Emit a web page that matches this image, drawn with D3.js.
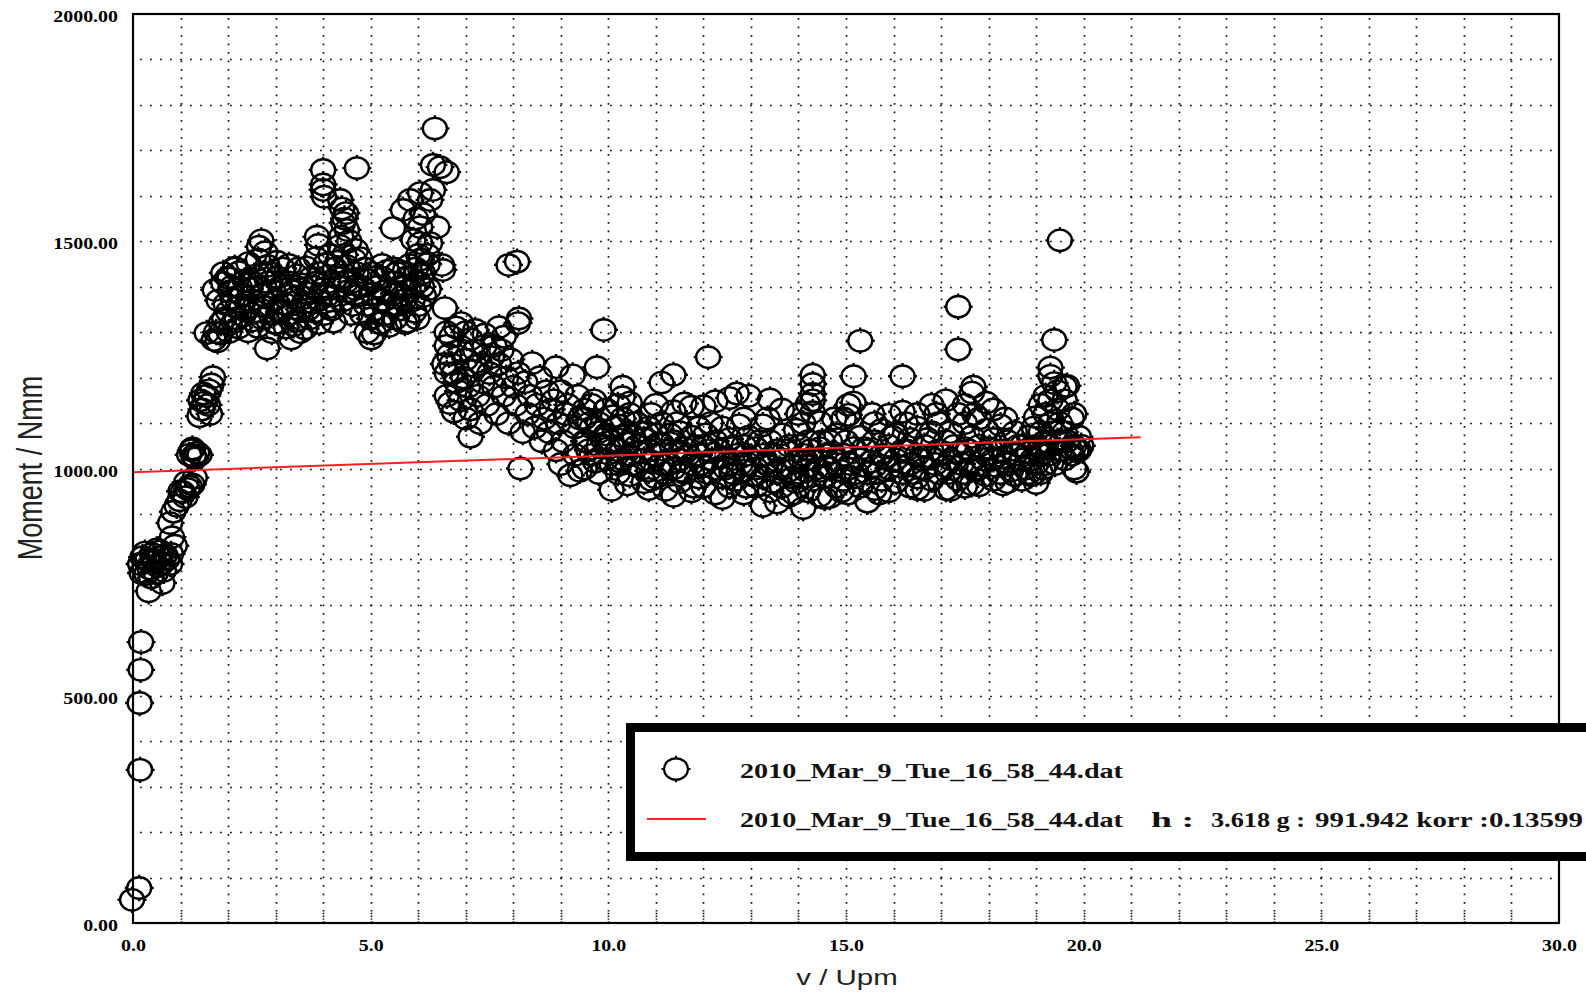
<!DOCTYPE html>
<html>
<head>
<meta charset="utf-8">
<script src="https://cdn.jsdelivr.net/npm/d3@7"></script>
<style>
  html, body { margin: 0; padding: 0; background: #fff; }
  svg { display: block; }
</style>
</head>
<body>
<svg id="chart" width="1586" height="992"></svg>
<script>
// ---- axis ticks and labels ----
const xTicks = [0, 5, 10, 15, 20, 25, 30];
const yTicks = [0, 500, 1000, 1500, 2000];
const xTitle = "v / Upm";
const yTitle = "Moment / Nmm";

// ---- regression of the measured series ----
const fileName = "2010_Mar_9_Tue_16_58_44.dat";
const fitSlope = 3.618;        // h
const fitIntercept = 991.942;  // g
const fitKorr = "0.13599";
const fitRange = [0, 21.2];

// ---- measured points [v (Upm), Moment (Nmm)] ----
const startPts = [[-0.02,51],[0.13,77],[0.15,337],[0.14,484],[0.16,557],[0.17,618]];

const lowRampPts = [
  [0.15,790],[0.2,805],[0.25,815],[0.3,798],[0.35,780],[0.4,812],[0.45,795],[0.5,822],
  [0.55,805],[0.6,790],[0.65,775],[0.28,768],[0.38,760],[0.33,730],[0.62,748],[0.72,800],
  [0.8,812],[0.18,770],[0.48,770],[0.58,818],[0.42,800],[0.52,785],[0.68,810],[0.78,790],
  [0.82,849],[0.88,830],[0.78,880],[0.85,905],[0.92,918],[0.98,930],[1.05,948],[1.1,937],
  [1.15,955],[1.2,960],[1.0,950],[1.12,970],[1.25,965],[1.3,980],[1.18,1030],[1.23,1040],
  [1.28,1028],[1.35,1035],[1.3,1022],[1.25,1044],[1.4,1030]
];

const midRampPts = [
  [1.4,1115],[1.45,1130],[1.5,1145],[1.55,1160],[1.6,1172],[1.48,1165],[1.58,1140],
  [1.65,1185],[1.68,1201],[1.62,1120],[1.42,1150],[1.55,1298],[1.7,1283],[1.75,1300],
  [1.8,1370],[1.72,1393],[1.9,1430],[1.84,1297],[1.78,1280],[1.85,1320],[1.99,1420],[2.14,1442]
];

const plateauPts = [
  [1.92,1330],[1.95,1362],[1.9,1408],
  [2.02,1300],[2.0,1345],[2.05,1390],[2.03,1418],
  [2.12,1322],[2.1,1372],[2.15,1440],
  [2.22,1310],[2.2,1356],[2.25,1398],[2.23,1432],
  [2.32,1336],[2.3,1380],[2.35,1414],
  [2.42,1302],[2.4,1350],[2.45,1396],[2.43,1452],
  [2.52,1326],[2.5,1370],[2.55,1424],
  [2.62,1312],[2.6,1346],[2.65,1400],[2.63,1460],
  [2.72,1330],[2.7,1382],[2.75,1430],
  [2.82,1264],[2.8,1355],[2.85,1410],[2.83,1446],
  [2.92,1300],[2.9,1340],[2.95,1390],
  [3.02,1320],[3.0,1372],[3.05,1420],[3.03,1455],
  [3.12,1345],[3.1,1400],[3.15,1440],
  [3.22,1310],[3.2,1362],[3.25,1410],
  [3.33,1286],[3.3,1340],[3.35,1390],[3.28,1448],
  [3.42,1325],[3.4,1375],[3.45,1425],
  [3.52,1300],[3.5,1350],[3.55,1405],
  [3.62,1308],[3.6,1365],[3.65,1442],
  [3.72,1330],[3.7,1385],[3.75,1420],
  [3.82,1345],[3.8,1400],[3.85,1463],
  [3.92,1320],[3.9,1370],[3.95,1430],
  [4.02,1340],[4.0,1395],[4.05,1450],
  [4.12,1355],[4.1,1410],[4.15,1470],
  [4.22,1323],[4.2,1380],[4.25,1440],
  [4.32,1400],[4.3,1455],[4.35,1490],
  [4.42,1370],[4.4,1420],[4.45,1470],
  [4.52,1390],[4.5,1445],[4.55,1500],
  [4.62,1360],[4.6,1410],[4.65,1460],
  [4.72,1380],[4.7,1430],[4.69,1481],
  [4.82,1340],[4.8,1400],[4.77,1463],
  [4.92,1300],[4.9,1360],[4.95,1415],
  [5.01,1286],[5.0,1330],[5.05,1385],[5.03,1430],
  [5.07,1297],[5.1,1350],[5.15,1400],
  [5.22,1320],[5.2,1370],[5.25,1420],[5.24,1448],
  [5.32,1340],[5.3,1390],[5.35,1435],
  [5.39,1314],[5.4,1360],[5.45,1410],
  [5.52,1330],[5.5,1385],[5.55,1430],
  [5.6,1435],[5.62,1350],[5.65,1400],
  [5.72,1320],[5.7,1370],[5.75,1420],
  [5.78,1323],[5.8,1390],[5.82,1448],
  [5.92,1345],[5.9,1400],[5.95,1440],
  [6.02,1360],[6.0,1410],[6.05,1460],
  [6.12,1380],[6.1,1430],
  [6.22,1395],[6.2,1450]
];

const plateauCorePts = [
  [2.08,1400],[2.28,1360],[2.48,1410],[2.68,1360],[2.88,1430],[3.08,1345],[3.28,1380],
  [3.48,1440],[3.68,1350],[3.88,1410],[4.08,1380],[4.28,1420],[4.48,1410],[4.68,1395],
  [4.88,1440],[5.08,1420],[5.28,1370],[5.48,1440],[5.68,1380],[5.88,1370],[6.08,1400],
  [2.18,1330],[2.58,1345],[2.98,1320],[3.38,1315],[3.78,1365],[4.18,1350],[4.58,1340],
  [5.18,1320],[5.58,1360],[5.98,1330]
];

const spikePts = [
  [2.7,1502],[2.65,1488],[2.78,1476],[3.87,1510],[3.9,1492],
  [4.0,1657],[4.0,1625],[4.0,1613],[4.02,1598],
  [4.36,1591],[4.4,1572],[4.45,1550],[4.5,1525],[4.42,1540],[4.48,1562],[4.38,1510],
  [4.71,1661],[5.47,1529],[5.68,1569],[5.83,1591],[6.04,1606],[6.25,1591],[6.31,1613],
  [6.04,1531],[6.4,1531],[5.9,1503],[6.25,1496],[6.04,1496],[6.31,1668],[6.46,1663],
  [6.6,1652],[6.35,1748],[6.1,1560],[5.95,1550],[6.2,1470],[6.0,1470],
  [6.5,1448],[6.52,1437],[6.56,1353]
];

const dropPts = [
  [6.6,1300],[6.7,1290],[6.8,1310],[6.9,1320],[7.0,1300],[7.1,1285],[7.2,1305],[7.4,1295],
  [7.7,1311],[8.1,1320],[8.12,1330],[6.6,1270],[6.65,1250],[6.7,1230],[6.75,1210],[6.8,1190],
  [6.6,1160],[6.67,1144],[6.75,1125],[6.85,1170],[6.9,1150],[6.95,1200],[7.0,1240],[7.05,1180],
  [7.1,1070],[7.1,1130],[7.15,1215],[7.2,1260],[7.25,1160],[7.3,1230],[7.35,1190],[7.4,1270],
  [7.45,1140],[7.5,1210],[7.55,1245],[7.6,1180],[7.65,1120],[7.7,1230],[7.75,1260],[7.8,1160],
  [7.85,1200],[7.9,1100],[7.95,1240],[8.0,1180],[8.05,1140],[8.1,1210],[8.15,1000],[8.2,1080],
  [8.25,1190],[8.3,1120],[8.35,1160],[8.4,1232],[8.45,1090],[8.5,1140],[8.56,1201],[8.6,1060],
  [8.65,1110],[8.7,1170],[8.75,1080],[8.8,1130],[8.85,1150],[8.9,1223],[8.95,1100],[9.0,1170],
  [9.05,1060],[9.1,1120],[9.15,1140],[9.25,1205],[9.3,1090],[9.35,1160],[9.4,1110],[9.5,1130],
  [9.55,1060],[9.6,1100],[9.7,1150],[9.76,1223],[9.8,1080],[9.9,1305],[9.95,1130],
  [6.55,1230],[6.6,1210],[7.0,1110],[7.3,1100],[7.6,1270],[7.8,1290],[7.2,1225],[6.9,1260],
  [7.9,1448],[8.08,1455],[9.0,1010],[9.2,985],[9.4,995],[8.9,1040],[9.3,1030]
];

const bandPts = [
  [9.5,1000],[9.5,1060],[9.5,1110],[9.65,1030],[9.65,1090],[9.65,1140],
  [9.8,990],[9.8,1050],[9.8,1100],[9.95,1020],[9.95,1075],[9.95,1130],
  [10.07,953],[10.07,1010],[10.07,1060],[10.2,990],[10.2,1040],[10.2,1095],[10.2,1140],
  [10.3,1020],[10.3,1070],[10.3,1110],[10.3,1157],[10.3,1180],
  [10.45,985],[10.45,1030],[10.45,1080],[10.45,1120],[10.45,1145],
  [10.6,1005],[10.6,1050],[10.6,1100],[10.75,970],[10.75,1020],[10.75,1065],
  [10.85,955],[10.85,995],[10.85,1040],[10.85,1090],
  [11.0,980],[11.0,1030],[11.0,1075],[11.0,1140],
  [11.12,1010],[11.12,1055],[11.12,1100],[11.12,1189],
  [11.2,953],[11.2,990],[11.2,1040],
  [11.37,940],[11.37,1000],[11.37,1060],[11.37,1126],[11.37,1206],
  [11.5,970],[11.5,1020],[11.5,1080],[11.6,990],[11.6,1045],[11.6,1143],
  [11.75,950],[11.75,1010],[11.75,1070],[11.75,1136],
  [11.9,980],[11.9,1030],[11.9,1090],[12.0,960],[12.0,1005],[12.0,1050],[12.0,1137],
  [12.1,990],[12.1,1040],[12.1,1245],
  [12.25,945],[12.25,1000],[12.25,1060],[12.25,1148],
  [12.4,935],[12.4,980],[12.4,1025],[12.4,1090],
  [12.55,960],[12.55,1010],[12.55,1065],[12.55,1155],
  [12.7,975],[12.7,1030],[12.7,1165],[12.85,945],[12.85,995],[12.85,1050],[12.85,1110],
  [12.95,1010],[12.95,1070],[12.95,1160],[13.1,960],[13.1,1000],[13.1,1045],
  [13.25,918],[13.25,980],[13.25,1030],[13.25,1095],
  [13.4,950],[13.4,1005],[13.4,1060],[13.4,1152],
  [13.55,925],[13.55,990],[13.55,1040],
  [13.65,960],[13.65,1020],[13.65,1075],[13.65,1130],
  [13.8,940],[13.8,995],[13.8,1050],[13.95,970],[13.95,1015],[13.95,1085],
  [14.1,913],[14.1,980],[14.1,1030],[14.1,1100],
  [14.2,950],[14.2,1005],[14.2,1060],[14.2,1142],
  [14.3,975],[14.3,1020],[14.3,1124],[14.3,1150],[14.3,1164],[14.3,1186],[14.3,1206],
  [14.45,940],[14.45,995],[14.45,1045],[14.45,1102],
  [14.55,935],[14.55,980],[14.55,1030],[14.66,937],[14.66,1000],[14.66,1060],
  [14.8,960],[14.8,1010],[14.8,1075],[14.95,975],[14.95,1030],[14.95,1110],
  [15.05,945],[15.05,1000],[15.05,1118],[15.05,1140],
  [15.16,980],[15.16,1045],[15.16,1145],[15.16,1203],
  [15.3,960],[15.3,1020],[15.3,1070],[15.3,1281],
  [15.45,927],[15.45,990],[15.45,1040],
  [15.6,955],[15.6,1005],[15.6,1060],[15.6,1100],
  [15.75,975],[15.75,1030],[15.75,1085],
  [15.9,950],[15.9,1000],[15.9,1050],[15.9,1118],
  [16.05,970],[16.05,1020],[16.05,1075],
  [16.19,990],[16.19,1040],[16.19,1125],[16.19,1203],
  [16.35,960],[16.35,1010],[16.35,1065],
  [16.5,980],[16.5,1030],[16.5,1090],[16.5,1120],
  [16.65,953],[16.65,1000],[16.65,1050],
  [16.8,975],[16.8,1025],[16.8,1080],[16.8,1140],
  [16.95,990],[16.95,1040],[16.95,1100],
  [17.1,955],[17.1,1005],[17.1,1060],[17.1,1150],
  [17.2,953],[17.2,1020],[17.2,1080],
  [17.36,975],[17.36,1035],[17.36,1120],[17.36,1262],[17.36,1356],
  [17.5,990],[17.5,1045],[17.5,1100],[17.5,1140],
  [17.65,965],[17.65,1015],[17.65,1070],[17.65,1167],[17.68,1180],
  [17.8,963],[17.8,1000],[17.8,1050],[17.8,1110],
  [17.95,985],[17.95,1030],[17.95,1085],[17.95,1145],
  [18.1,975],[18.1,1020],[18.1,1065],[18.1,1130],
  [18.25,990],[18.25,1040],[18.25,1095],
  [18.4,970],[18.4,1010],[18.4,1060],
  [18.55,985],[18.55,1030],[18.55,1080],
  [18.7,975],[18.7,1020],[18.7,1050],
  [18.85,990],[18.85,1035],[18.85,1070],
  [19.0,968],[19.0,1010],[19.0,1050],[19.0,1113],
  [19.1,990],[19.1,1030],[19.1,1080],[19.1,1140],
  [19.2,1010],[19.2,1060],[19.2,1120],[19.2,1160],
  [19.3,1050],[19.3,1100],[19.3,1150],[19.3,1204],[19.3,1222],
  [19.38,1283],[19.38,1080],[19.38,1188],
  [19.45,1061],[19.45,1130],[19.45,1170],
  [19.5,1502],[19.5,1040],[19.5,1100],
  [19.6,1020],[19.6,1080],[19.6,1150],[19.6,1180],
  [19.65,1182],[19.65,1060],[19.75,1030],[19.75,1110],
  [19.8,1050],[19.8,1000],[19.8,1120],[19.85,993],[19.85,1040],[19.9,1040],[19.9,1070]
];

const bandCorePts = [
  [9.58,1040],[9.72,1015],[9.88,1065],[10.0,1045],[10.13,1090],[10.25,1015],[10.38,1055],
  [10.52,1010],[10.52,1070],[10.68,1035],[10.8,1080],[10.92,1015],[11.05,1055],[11.28,1010],
  [11.3,1075],[11.43,1040],[11.55,995],[11.68,1030],[11.82,1050],[11.95,1010],[12.05,1075],
  [12.18,1020],[12.32,1040],[12.47,1000],[12.62,1045],[12.62,990],[12.78,1010],[12.9,1030],
  [13.03,985],[13.18,1060],[13.32,1010],[13.48,970],[13.48,1030],[13.6,1000],[13.72,1040],
  [13.88,980],[14.03,1050],[14.15,995],[14.25,1040],[14.38,1000],[14.5,1060],[14.6,1005],
  [14.72,1035],[14.88,995],[15.0,1060],[15.1,1010],[15.22,990],[15.38,1045],[15.52,1015],
  [15.68,990],[15.82,1025],[15.97,1070],[16.12,1005],[16.27,1040],[16.42,990],[16.58,1020],
  [16.72,1065],[16.88,1010],[17.02,1030],[17.15,990],[17.28,1050],[17.43,1010],[17.58,1040],
  [17.72,995],[17.88,1020],[18.02,1045],[18.18,1005],[18.32,1025],[18.47,995],[18.62,1050],
  [18.78,1000],[18.92,1020],[19.05,1040],[19.15,1000],[19.25,1030],[19.4,1010],[19.55,1060],
  [19.7,1045],[19.95,1050],
  [10.1,1115],[10.9,1120],[11.45,1100],[12.15,1100],[12.75,1095],[13.35,1110],[14.0,1120],
  [14.75,1110],[15.55,1120],[16.25,1100],[16.9,1120],[17.7,1120],[18.35,1110],[18.95,1090],
  [11.8,960],[12.9,960],[13.9,945],[14.9,950],[15.7,945],[16.5,955],[17.5,960],[18.3,965],
  [18.9,985],[10.4,965],[10.9,975]
];

// ---- layout ----
const width = 1586, height = 992;
const plot = { left: 133, right: 1559, top: 14, bottom: 923 };

const svg = d3.select("#chart");

const x = d3.scaleLinear().domain([0, 30]).range([plot.left, plot.right]);
const y = d3.scaleLinear().domain([0, 2000]).range([plot.bottom, plot.top]);

// ---- dotted grid ----
const grid = svg.append("g").attr("class", "grid");
grid.selectAll("line.v")
  .data(d3.range(1, 30))
  .join("line")
  .attr("class", "v")
  .attr("x1", d => Math.round(x(d)) + 0.5).attr("x2", d => Math.round(x(d)) + 0.5)
  .attr("y1", plot.top + 4).attr("y2", plot.bottom - 14)
  .attr("stroke", "#111").attr("stroke-width", 1.7)
  .attr("stroke-dasharray", "1.8,6.7");
// short dense ticks at the foot of every grid column
grid.selectAll("line.t")
  .data(d3.range(1, 30))
  .join("line")
  .attr("class", "t")
  .attr("x1", d => Math.round(x(d)) + 0.5).attr("x2", d => Math.round(x(d)) + 0.5)
  .attr("y1", plot.bottom - 13).attr("y2", plot.bottom)
  .attr("stroke", "#111").attr("stroke-width", 1.7)
  .attr("stroke-dasharray", "1.4,1.4");
grid.selectAll("line.h")
  .data(d3.range(100, 2000, 100))
  .join("line")
  .attr("class", "h")
  .attr("x1", plot.left + 7).attr("x2", plot.right)
  .attr("y1", d => Math.round(y(d)) + 0.5).attr("y2", d => Math.round(y(d)) + 0.5)
  .attr("stroke", "#111").attr("stroke-width", 1.7)
  .attr("stroke-dasharray", "1.8,8.2");

// ---- circle marker with small outer nubs ----
const rx = 12, ry = 10.7;
const markerPath =
  `M${-rx},0A${rx},${ry} 0 1,0 ${rx},0A${rx},${ry} 0 1,0 ${-rx},0Z` +
  `M0,${-ry - 0.5}v-2M0,${ry + 0.5}v2M${-rx - 0.5},0h-2M${rx + 0.5},0h2`;

const allPts = [].concat(startPts, lowRampPts, midRampPts, plateauPts, plateauCorePts,
                         spikePts, dropPts, bandPts, bandCorePts);

svg.append("g").attr("class", "points")
  .selectAll("path")
  .data(allPts)
  .join("path")
  .attr("transform", d => `translate(${x(d[0])},${y(d[1])})`)
  .attr("d", markerPath)
  .attr("fill", "none")
  .attr("stroke", "#000")
  .attr("stroke-width", 2.4);

// ---- regression line ----
const fitLine = d3.line().x(d => x(d)).y(d => y(fitIntercept + fitSlope * d));
svg.append("path")
  .datum(fitRange)
  .attr("d", fitLine)
  .attr("fill", "none")
  .attr("stroke", "#ff1f1f")
  .attr("stroke-width", 2);

// ---- frame ----
svg.append("rect")
  .attr("x", plot.left).attr("y", plot.top)
  .attr("width", plot.right - plot.left).attr("height", plot.bottom - plot.top)
  .attr("fill", "none").attr("stroke", "#000").attr("stroke-width", 2.2);

// ---- axes ----
const tickFont = "'Liberation Serif', 'Times New Roman', serif";
const xAxis = svg.append("g")
  .attr("transform", `translate(0,${plot.bottom})`)
  .call(d3.axisBottom(x).tickValues(xTicks).tickFormat(d3.format(".1f")).tickSize(0).tickPadding(0));
xAxis.select(".domain").remove();
xAxis.selectAll("text")
  .attr("y", 28).attr("dy", 0)
  .attr("font-family", tickFont).attr("font-weight", "bold").attr("font-size", 17.5)
  .attr("fill", "#000")
  .attr("transform", "scale(1.14,1)");

const ySx = 1.14;
const yAxis = svg.append("g")
  .attr("transform", `translate(${plot.left},0)`)
  .call(d3.axisLeft(y).tickValues(yTicks).tickFormat(d3.format(".2f")).tickSize(0).tickPadding(0));
yAxis.select(".domain").remove();
yAxis.selectAll("text")
  .attr("x", -15 / ySx).attr("y", 2).attr("dy", "0.32em")
  .attr("font-family", tickFont).attr("font-weight", "bold").attr("font-size", 17.5)
  .attr("fill", "#000")
  .attr("transform", `scale(${ySx},1)`);

// ---- axis titles ----
const titleFont = "'Liberation Sans', Arial, sans-serif";
svg.append("text")
  .attr("transform", "translate(847,985) scale(1.34,1)")
  .attr("text-anchor", "middle")
  .attr("font-family", titleFont).attr("font-size", 22)
  .attr("fill", "#222")
  .text(xTitle);
svg.append("text")
  .attr("transform", "translate(42,468) scale(1.3,1) rotate(-90)")
  .attr("text-anchor", "middle")
  .attr("font-family", titleFont).attr("font-size", 27)
  .attr("fill", "#222")
  .text(yTitle);

// ---- legend ----
const legend = svg.append("g").attr("class", "legend");
legend.append("rect")
  .attr("x", 630.5).attr("y", 727.5)
  .attr("width", 1100).attr("height", 129)
  .attr("fill", "#fff").attr("stroke", "#000").attr("stroke-width", 9);
legend.append("path")
  .attr("transform", "translate(676,769)")
  .attr("d", markerPath)
  .attr("fill", "none").attr("stroke", "#000").attr("stroke-width", 2.2);
legend.append("line")
  .attr("x1", 647).attr("x2", 706).attr("y1", 819).attr("y2", 819)
  .attr("stroke", "#ff1f1f").attr("stroke-width", 2.2);

const legendItems = [
  { text: fileName, x: 740, y: 778, len: 383 },
  { text: fileName, x: 740, y: 827, len: 383 },
  { text: "h :", x: 1151, y: 827, len: 43 },
  { text: `${fitSlope} g :`, x: 1211, y: 827, len: 94 },
  { text: `${fitIntercept} korr :${fitKorr}`, x: 1315, y: 827, len: 268 }
];
legend.selectAll("text.item")
  .data(legendItems)
  .join("text")
  .attr("class", "item")
  .attr("x", d => d.x).attr("y", d => d.y)
  .attr("textLength", d => d.len).attr("lengthAdjust", "spacingAndGlyphs")
  .attr("font-family", tickFont).attr("font-weight", "bold").attr("font-size", 22)
  .attr("fill", "#111")
  .text(d => d.text);
</script>
</body>
</html>
